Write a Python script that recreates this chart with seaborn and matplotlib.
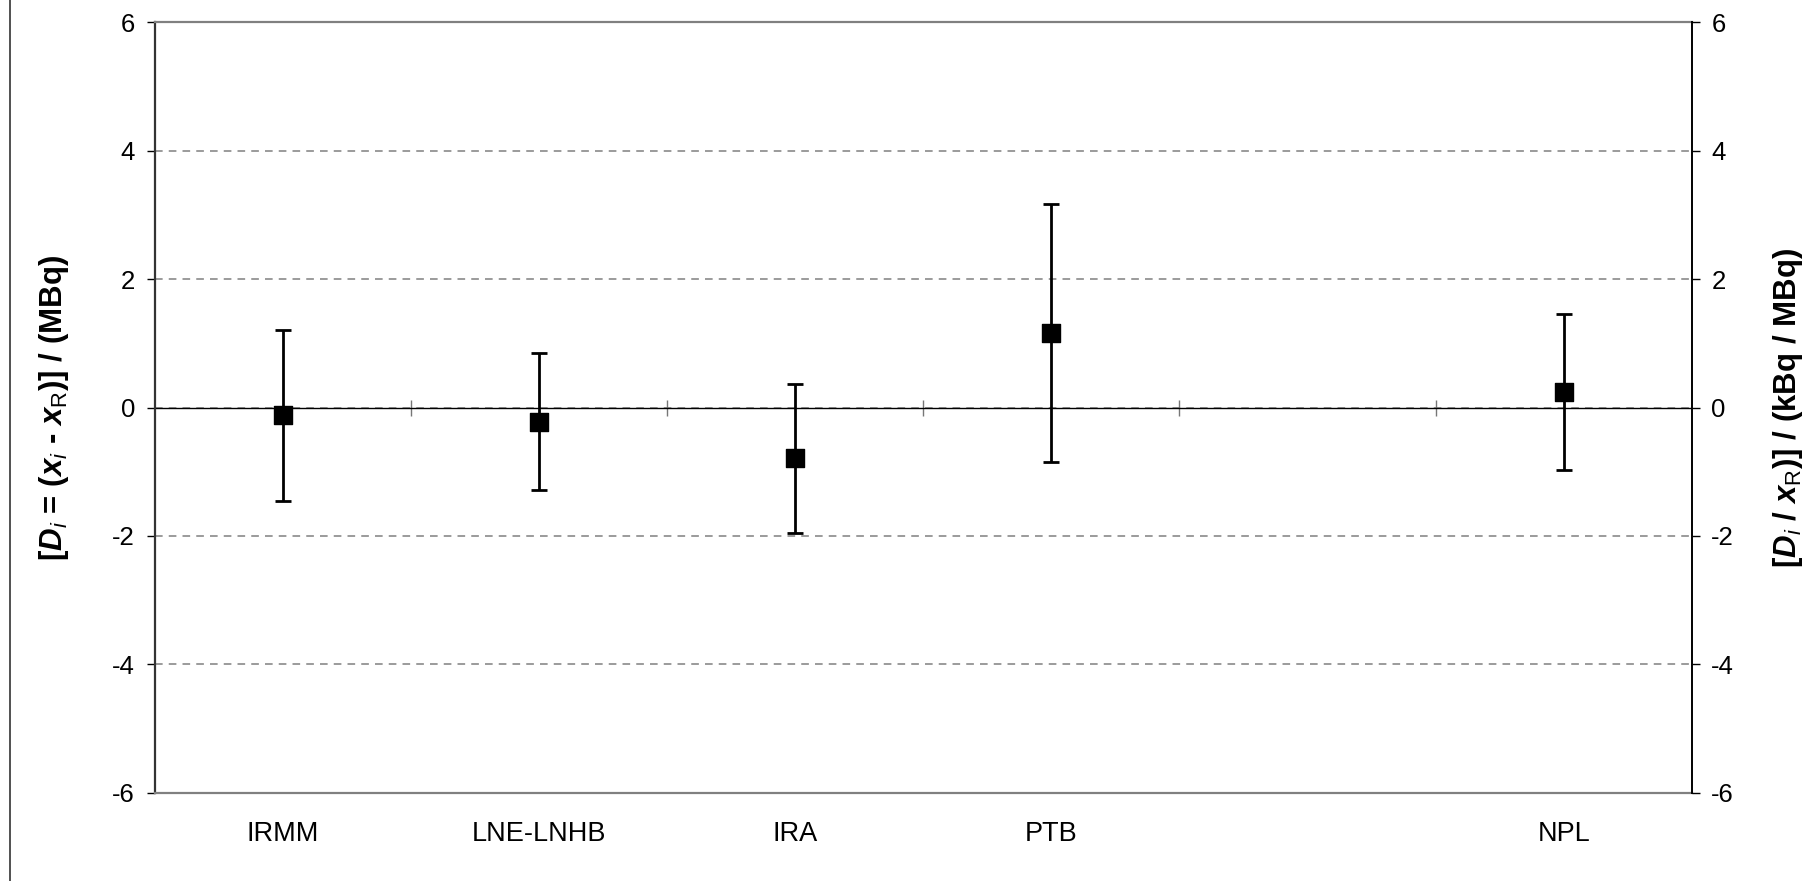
import numpy as np
import pandas as pd
import matplotlib
matplotlib.use("Agg")
import matplotlib.pyplot as plt
import seaborn as sns
from matplotlib.lines import Line2D

# ---- data ----
labs = ["IRMM", "LNE-LNHB", "IRA", "PTB", "", "NPL"]
di = [-0.12, -0.22, -0.79, 1.16, np.nan, 0.24]
ui = [1.33, 1.07, 1.16, 2.01, np.nan, 1.21]
yticks = [-6, -4, -2, 0, 2, 4, 6]
left_label = r"[$\mathbfit{D}_{\mathit{i}}$ = ($\mathbfit{x}_{\mathit{i}}$ - $\mathbfit{x}_{\mathrm{R}}$)] / (MBq)"
right_label = r"[$\mathbfit{D}_{\mathit{i}}$ / $\mathbfit{x}_{\mathrm{R}}$)] / (kBq / MBq)"

sns.set_style("white")
plt.rcParams['font.family'] = ['Liberation Sans', 'DejaVu Sans']
plt.rcParams['axes.unicode_minus'] = False
plt.rcParams['text.color'] = 'black'
plt.rcParams['xtick.color'] = 'black'
plt.rcParams['ytick.color'] = 'black'
plt.rcParams['axes.labelcolor'] = 'black'
plt.rcParams['mathtext.fontset'] = 'custom'
plt.rcParams['mathtext.rm'] = 'Liberation Sans'
plt.rcParams['mathtext.it'] = 'Liberation Sans:italic'
plt.rcParams['mathtext.bf'] = 'Liberation Sans:bold'
plt.rcParams['mathtext.bfit'] = 'Liberation Sans:italic:bold'

df = pd.DataFrame({"pos": np.arange(len(labs)), "lab": labs, "di": di, "ui": ui})

fig, ax = plt.subplots(figsize=(18.14, 8.81), dpi=100)
fig.subplots_adjust(left=0.0852, right=0.9327, bottom=0.1002, top=0.9747)

ax.set_xlim(-0.5, len(labs) - 0.5)
ax.set_ylim(-6, 6)
ax.set_yticks(yticks)
ax.grid(axis='y', linestyle=(0, (5, 4)), color='#808080', linewidth=1.1)
ax.grid(axis='x', visible=False)
ax.axhline(0, color='black', linewidth=1.0, zorder=2.5)

ax.errorbar(df["pos"], df["di"], yerr=df["ui"], fmt='none', ecolor='black',
            elinewidth=2, capsize=5.5, capthick=2, zorder=3)
sns.scatterplot(data=df, x="pos", y="di", marker="s", s=155, color="black",
                edgecolor="black", ax=ax, zorder=4, legend=False)

ax.set_xticks(df["pos"])
ax.set_xticklabels(labs)
ax.set_xlabel("")
ax.set_ylabel("")
ax.tick_params(axis='x', length=0, pad=20, labelsize=19.5, labelcolor='black')
ax.tick_params(axis='y', left=True, direction='out', length=6, width=1,
               color='black', pad=8, labelsize=18.5, labelcolor='black')

# category tick marks on the zero line
secax = ax.secondary_xaxis(0.5)
secax.set_xticks(df["pos"][:-1] + 0.5)
secax.tick_params(direction='inout', length=11, width=1, color='#777777',
                  labelbottom=False, labeltop=False)
for sp in secax.spines.values():
    sp.set_visible(False)

for side in ['top', 'bottom']:
    ax.spines[side].set_color('#808080')
    ax.spines[side].set_linewidth(1.6)
ax.spines['left'].set_color('#333333')
ax.spines['left'].set_linewidth(1.6)
ax.spines['right'].set_visible(False)

ax2 = ax.twinx()
ax2.set_ylim(-6, 6)
ax2.set_yticks(yticks)
ax2.grid(False)
ax2.tick_params(axis='y', right=True, direction='out', length=6, width=1,
                color='black', pad=8, labelsize=18.5, labelcolor='black')
for side in ['top', 'bottom', 'left']:
    ax2.spines[side].set_visible(False)
ax2.spines['right'].set_color('black')
ax2.spines['right'].set_linewidth(1.4)

yc = 1 - 407.5 / 881
fig.text(54 / 1814, yc, left_label, rotation=90, ha='center', va='center',
         fontsize=22.5, fontweight='bold')
fig.text(1788 / 1814, yc, right_label, rotation=90, ha='center', va='center',
         fontsize=22.5, fontweight='bold')

fig.add_artist(Line2D([10 / 1814, 10 / 1814], [0, 1], transform=fig.transFigure,
                      color='#333333', linewidth=1.2))

fig.savefig("out.png", dpi=100)
